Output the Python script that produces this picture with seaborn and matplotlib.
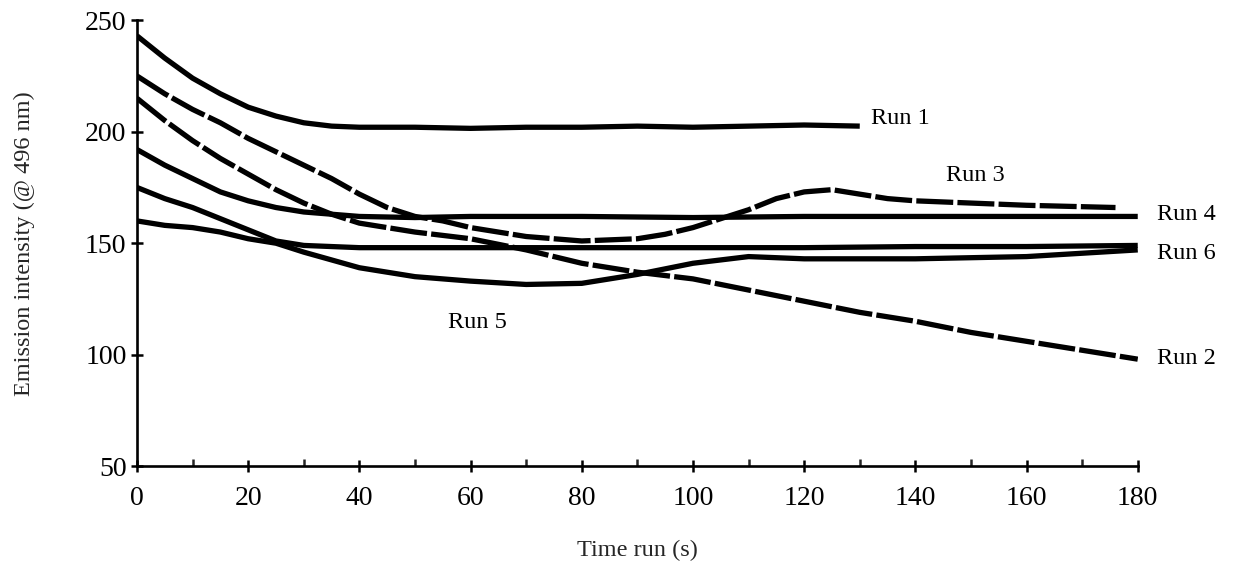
import numpy as np
import pandas as pd
import matplotlib
matplotlib.use("Agg")
import matplotlib.pyplot as plt
from matplotlib.ticker import MultipleLocator
import seaborn as sns

# Emission traces (intensity at 496 nm) for six runs
run1_t = [0, 5, 10, 15, 20, 25, 30, 35, 40, 50, 60, 70, 80, 90, 100, 110, 120, 130]
run1_y = [243, 233, 224, 217, 211, 207, 204, 202.5, 202, 202, 201.5, 202, 202, 202.5, 202, 202.5, 203, 202.5]

run2_t = [0, 5, 10, 15, 20, 25, 30, 35, 40, 50, 60, 70, 80, 90, 100, 110, 120, 130, 140, 150, 160, 170, 180]
run2_y = [215, 205, 196, 188, 181, 174, 168, 163, 159, 155, 152, 147, 141, 137, 134, 129, 124, 119, 115, 110, 106, 102, 98]

run3_t = [0, 5, 10, 15, 20, 25, 30, 35, 40, 45, 50, 55, 60, 70, 80, 90, 95, 100, 105, 110, 115, 120, 125, 130, 135, 140, 150, 160, 176]
run3_y = [225, 217, 210, 204, 197, 191, 185, 179, 172, 166, 162, 160, 157, 153, 151, 152, 154, 157, 161, 165, 170, 173, 174, 172, 170, 169, 168, 167, 166]

run4_t = [0, 5, 10, 15, 20, 25, 30, 40, 50, 60, 80, 100, 120, 140, 160, 180]
run4_y = [192, 185, 179, 173, 169, 166, 164, 162, 161.5, 162, 162, 161.5, 162, 162, 162, 162]

run5_t = [0, 5, 10, 15, 20, 25, 30, 40, 50, 60, 70, 80, 90, 100, 110, 120, 140, 160, 180]
run5_y = [160, 158, 157, 155, 152, 150, 146, 139, 135, 133, 131.5, 132, 136, 141, 144, 143, 143, 144, 147]

run6_t = [0, 5, 10, 15, 20, 25, 30, 40, 60, 80, 100, 120, 140, 160, 180]
run6_y = [175, 170, 166, 161, 156, 151, 149, 148, 148, 148, 148, 148, 148.5, 148.5, 149]

run_names = ["Run 1", "Run 2", "Run 3", "Run 4", "Run 5", "Run 6"]

frames = []
for name, t, y in zip(run_names,
                      [run1_t, run2_t, run3_t, run4_t, run5_t, run6_t],
                      [run1_y, run2_y, run3_y, run4_y, run5_y, run6_y]):
    frames.append(pd.DataFrame({"time": t, "intensity": y, "run": name}))
data = pd.concat(frames, ignore_index=True)

sns.set_style("ticks")
plt.rcParams["font.family"] = ["Liberation Serif", "DejaVu Serif"]

fig = plt.figure(figsize=(12.34, 5.77), dpi=100)
ax = fig.add_axes([0.111, 0.192, 0.811, 0.773])

line_styles = {
    "Run 1": "-",
    "Run 2": (0, (7, 0.8)),
    "Run 3": (0, (7, 0.8)),
    "Run 4": "-",
    "Run 5": "-",
    "Run 6": "-",
}
for name in run_names:
    sub = data[data["run"] == name]
    sns.lineplot(data=sub, x="time", y="intensity", ax=ax, color="black",
                 linewidth=3.8, linestyle=line_styles[name], legend=False,
                 solid_capstyle="butt")

# Run labels placed next to their traces
label_pos = {
    "Run 1": (132, 206),
    "Run 3": (145.5, 180.5),
    "Run 4": (183.5, 163),
    "Run 6": (183.5, 145.5),
    "Run 2": (183.5, 98.5),
    "Run 5": (56, 114.5),
}
for name, (tx, ty) in label_pos.items():
    ax.text(tx, ty, name, fontsize=17.5, va="center", ha="left",
            color="black", clip_on=False)

ax.set_xlim(0, 180)
ax.set_ylim(50, 250)
ax.xaxis.set_major_locator(MultipleLocator(20))
ax.xaxis.set_minor_locator(MultipleLocator(10))
ax.yaxis.set_major_locator(MultipleLocator(50))

for side in ["top", "right"]:
    ax.spines[side].set_visible(False)
for side in ["left", "bottom"]:
    ax.spines[side].set_linewidth(1.9)
    ax.spines[side].set_color("black")

ax.tick_params(axis="x", which="major", direction="inout", length=9, width=1.8,
               labelsize=20, pad=10, colors="black")
ax.tick_params(axis="x", which="minor", direction="in", length=5, width=1.8)
ax.tick_params(axis="y", which="major", direction="inout", length=9, width=1.8,
               labelsize=20, pad=3, colors="black")

ax.set_xlabel("Time run (s)", fontsize=17.5)
ax.set_ylabel("Emission intensity (@ 496 nm)", fontsize=17.5)
ax.xaxis.set_label_coords(0.5, -0.165)
ax.yaxis.set_label_coords(-0.102, 0.5)

fig.savefig("out.png", dpi=100, facecolor="white")
